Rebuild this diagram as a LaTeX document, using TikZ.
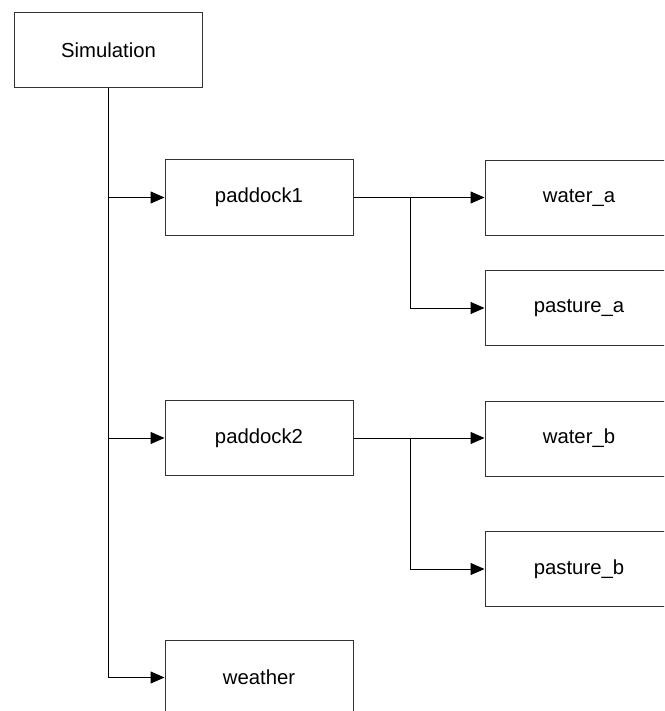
\documentclass[tikz,border=0pt]{standalone}
\usepackage{fontspec}
\setmainfont{Liberation Sans}
\usetikzlibrary{arrows.meta}
\begin{document}
\begin{tikzpicture}[x=1pt,y=-1pt,
  box/.style={draw=black!80,line width=1pt,fill=white,minimum width=188pt,minimum height=75pt,inner sep=0pt,font=\fontsize{20.3}{23}\selectfont},
  conn/.style={draw=black,line width=1pt},
  arr/.style={conn,-{Triangle[length=14pt,width=12pt]}}]
\useasboundingbox (0,0) rectangle (664,711);
\clip (0,0) rectangle (664,711);
\node[box] (sim) at (108.5,50.5) {Simulation};
\node[box] (p1) at (259,197.5) {paddock1};
\node[box] (wa) at (579,198) {water\_a};
\node[box] (pa) at (579,308) {pasture\_a};
\node[box] (p2) at (259,438) {paddock2};
\node[box] (wb) at (579,438.5) {water\_b};
\node[box] (pb) at (579,569) {pasture\_b};
\node[box] (we) at (259,677.5) {weather};
\draw[arr] (sim.south) |- (we.west);
\draw[arr] (sim.south |- p1.west) -- (p1.west);
\draw[arr] (sim.south |- p2.west) -- (p2.west);
\draw[arr] (p1.east) -- (wa.west |- p1.east);
\draw[arr] (p1.east) -- ++(57,0) |- (pa.west);
\draw[arr] (p2.east) -- (wb.west |- p2.east);
\draw[arr] (p2.east) -- ++(57,0) |- (pb.west);
\end{tikzpicture}
\end{document}
